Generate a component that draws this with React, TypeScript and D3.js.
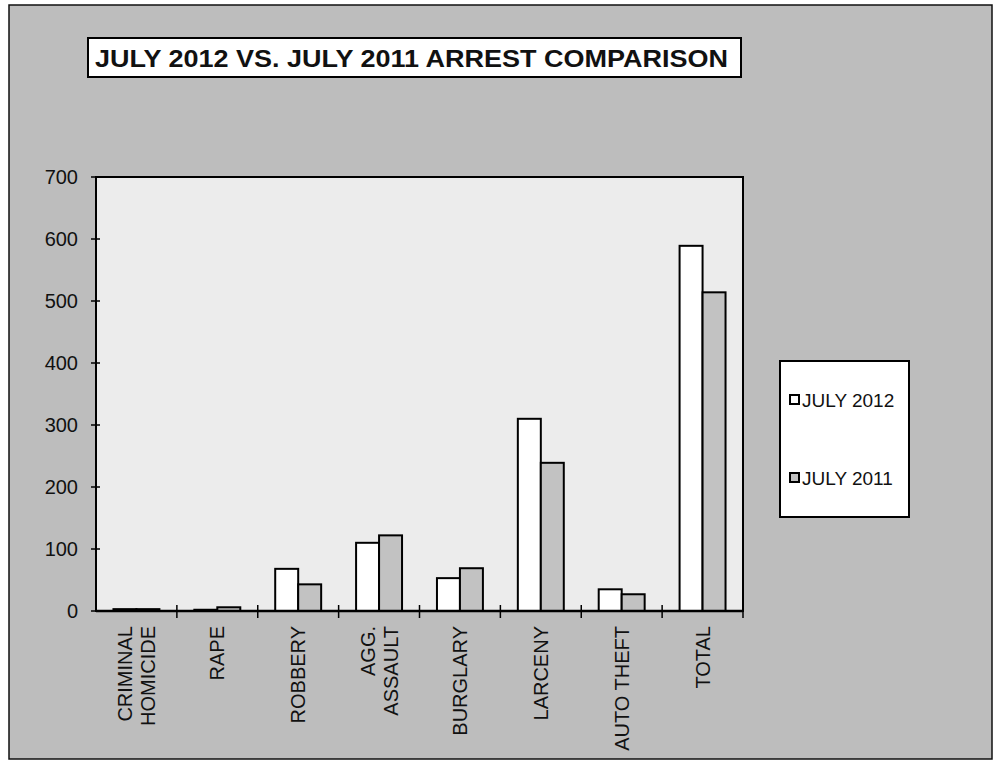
import React from "react";
import * as d3 from "d3";

const categories: string[][] = [
  ["CRIMINAL", "HOMICIDE"],
  ["RAPE"],
  ["ROBBERY"],
  ["AGG.", "ASSAULT"],
  ["BURGLARY"],
  ["LARCENY"],
  ["AUTO THEFT"],
  ["TOTAL"],
];
const seriesNames = ["JULY 2012", "JULY 2011"];
const july2012 = [3, 2, 68, 110, 53, 310, 35, 589];
const july2011 = [3, 6, 43, 122, 69, 239, 27, 514];
const yTicks = [0, 100, 200, 300, 400, 500, 600, 700];
const title = "JULY 2012 VS. JULY 2011 ARREST COMPARISON";

const FONT = "'Liberation Sans', Arial, Helvetica, sans-serif";

export default function App() {
  const W = 995;
  const H = 762;
  const plot = { left: 96, right: 743, top: 177, bottom: 611 };
  const keys = categories.map((c) => c.join(" "));
  const x = d3.scaleBand<string>().domain(keys).range([plot.left, plot.right]).padding(0);
  const inner = d3
    .scaleBand<string>()
    .domain(seriesNames)
    .range([0, x.bandwidth()])
    .paddingInner(0)
    .paddingOuter(0.76);
  const y = d3.scaleLinear().domain([0, 700]).range([plot.bottom, plot.top]);
  const values = [july2012, july2011];
  const fills = ["#ffffff", "#c2c2c2"];

  return (
    <svg
      width={W}
      height={H}
      style={{ position: "absolute", left: 0, top: 0, background: "#fff" }}
      fontFamily={FONT}
    >
      <rect x={9} y={5} width={983} height={754} fill="#bdbdbd" stroke="#111" strokeWidth={1.5} />
      {/* title */}
      <rect x={88} y={38} width={653} height={39} fill="#fff" stroke="#000" strokeWidth={2} />
      <text
        x={95}
        y={67}
        fontSize={23}
        fontWeight="bold"
        fill="#111"
        textLength={633}
        lengthAdjust="spacingAndGlyphs"
      >
        {title}
      </text>
      {/* plot area */}
      <rect
        x={plot.left}
        y={plot.top}
        width={plot.right - plot.left}
        height={plot.bottom - plot.top}
        fill="#ececec"
        stroke="#000"
        strokeWidth={2}
      />
      {/* bars */}
      {keys.map((k, i) =>
        seriesNames.map((s, j) => {
          const v = values[j][i];
          const bx = (x(k) as number) + (inner(s) as number);
          return (
            <rect
              key={k + s}
              x={bx}
              y={y(v)}
              width={inner.bandwidth()}
              height={plot.bottom - y(v)}
              fill={fills[j]}
              stroke="#000"
              strokeWidth={2}
            />
          );
        })
      )}
      {/* y axis */}
      <line x1={plot.left} x2={plot.left} y1={plot.top} y2={plot.bottom} stroke="#000" strokeWidth={2} />
      {yTicks.map((t) => (
        <g key={t}>
          <line x1={plot.left - 5} x2={plot.left + 4} y1={y(t)} y2={y(t)} stroke="#000" strokeWidth={1.5} />
          <text x={78} y={y(t) + 7} textAnchor="end" fontSize={20} fill="#111">
            {t}
          </text>
        </g>
      ))}
      {/* x axis */}
      <line x1={plot.left} x2={plot.right} y1={plot.bottom} y2={plot.bottom} stroke="#000" strokeWidth={2.5} />
      {keys.map((k) => (
        <line
          key={"t" + k}
          x1={(x(k) as number) + x.bandwidth()}
          x2={(x(k) as number) + x.bandwidth()}
          y1={plot.bottom - 6}
          y2={plot.bottom + 7}
          stroke="#000"
          strokeWidth={1.5}
        />
      ))}
      {categories.map((lines, i) => {
        const cx = (x(keys[i]) as number) + x.bandwidth() / 2;
        const n = lines.length;
        return lines.map((ln, li) => {
          const lx = cx + (li - (n - 1) / 2) * 23 + 7;
          return (
            <text
              key={keys[i] + li}
              transform={`translate(${lx},${626}) rotate(-90)`}
              textAnchor="end"
              fontSize={20}
              fill="#111"
            >
              {ln}
            </text>
          );
        });
      })}
      {/* legend */}
      <rect x={780} y={361} width={129} height={156} fill="#fff" stroke="#000" strokeWidth={2} />
      {seriesNames.map((s, j) => {
        const cy = j === 0 ? 400 : 478;
        return (
          <g key={s}>
            <rect x={790} y={cy - 5} width={9} height={9} fill={fills[j]} stroke="#000" strokeWidth={2} />
            <text x={802} y={cy + 7} fontSize={19} fill="#111">
              {s}
            </text>
          </g>
        );
      })}
    </svg>
  );
}
